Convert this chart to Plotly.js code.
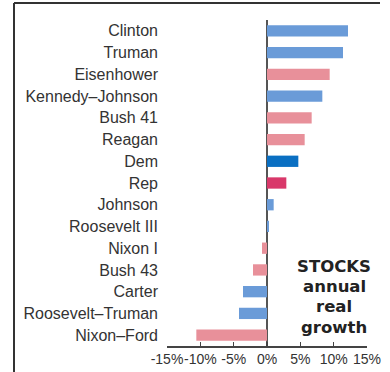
<!DOCTYPE html>
<html>
<head>
<meta charset="utf-8">
<script src="https://cdn.plot.ly/plotly-3.0.1.min.js"></script>
<style>
html,body{margin:0;padding:0;background:#fff;}
#chart{width:390px;height:372px;}
</style>
</head>
<body>
<div id="chart"></div>
<script>
var presidencies = ["Clinton","Truman","Eisenhower","Kennedy–Johnson","Bush 41","Reagan","Dem","Rep","Johnson","Roosevelt III","Nixon I","Bush 43","Carter","Roosevelt–Truman","Nixon–Ford"];
var growth = [12.15, 11.4, 9.4, 8.3, 6.7, 5.65, 4.7, 2.9, 1.0, 0.3, -0.75, -2.1, -3.6, -4.2, -10.6];
var party = ["D","D","R","D","R","R","DemAvg","RepAvg","D","D","R","R","D","D","R"];
var tickValues = [-15, -10, -5, 0, 5, 10, 15];
var tickLabels = ["-15%", "-10%", "-5%", "0%", "5%", "10%", "15%"];
var noteLines = ["STOCKS", "annual", "real", "growth"];

var partyColors = {D: "#6a9bd8", R: "#e8909a", DemAvg: "#0a6fc2", RepAvg: "#d9386a"};

var trace = {
  type: "bar",
  orientation: "h",
  y: presidencies,
  x: growth,
  marker: {color: party.map(function(p){ return partyColors[p]; })},
  hoverinfo: "skip"
};

// note lines: vertical centres in paper fraction
var noteY = [0.245, 0.181, 0.12, 0.058];
var annotations = noteLines.map(function(t, i){
  return {
    xref: "paper", yref: "paper",
    x: 0.835, y: noteY[i],
    xanchor: "center", yanchor: "middle",
    showarrow: false,
    text: "<b>" + t + "</b>",
    font: {size: 16.5, color: "#222222", family: "DejaVu Sans, sans-serif"}
  };
});

var layout = {
  width: 390,
  height: 372,
  margin: {l: 167, r: 23, t: 20, b: 26},
  paper_bgcolor: "#ffffff",
  plot_bgcolor: "#ffffff",
  showlegend: false,
  bargap: 0.48,
  font: {family: "Liberation Sans, Arial, sans-serif", color: "#333333"},
  xaxis: {
    range: [-15, 15],
    tickvals: tickValues,
    ticktext: tickLabels,
    tickangle: 0,
    ticks: "inside",
    ticklen: 4,
    tickcolor: "#444444",
    tickwidth: 1.5,
    showline: true,
    linecolor: "#444444",
    linewidth: 1.5,
    showgrid: false,
    zeroline: true,
    zerolinecolor: "#555555",
    zerolinewidth: 2,
    tickfont: {size: 14, color: "#333333"},
    fixedrange: true
  },
  yaxis: {
    type: "category",
    autorange: "reversed",
    showgrid: false,
    zeroline: false,
    showline: false,
    ticks: "",
    ticklabelstandoff: 8,
    tickfont: {size: 16, color: "#333333"},
    fixedrange: true
  },
  annotations: annotations,
  shapes: [
    {type: "line", xref: "paper", yref: "paper", x0: -0.765, x1: 1.065, y0: 1.052, y1: 1.052, line: {color: "#333333", width: 2}},
    {type: "line", xref: "paper", yref: "paper", x0: -0.765, x1: -0.765, y0: 1.052, y1: -0.1, line: {color: "#333333", width: 2}}
  ]
};

Plotly.newPlot("chart", [trace], layout, {displayModeBar: false, staticPlot: true});
</script>
</body>
</html>
